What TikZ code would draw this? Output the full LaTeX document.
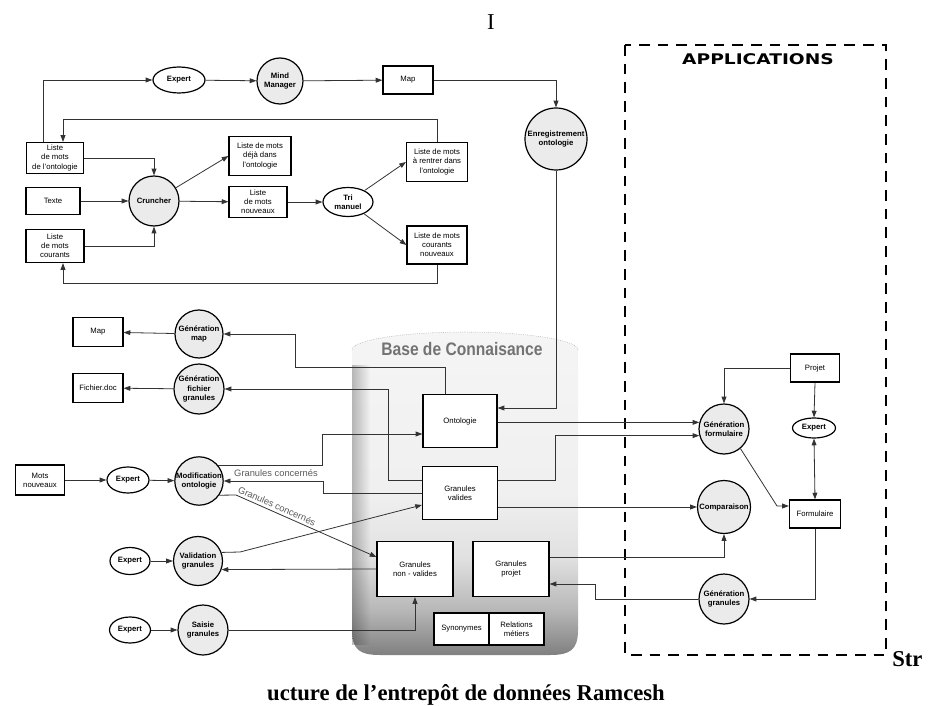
\documentclass[tikz,border=0pt]{standalone}
\usepackage{fontspec}
\setmainfont{Liberation Sans}
\newfontfamily\capfont{Liberation Serif}
\newfontfamily\appfont{DejaVu Sans}
\usetikzlibrary{arrows.meta,shapes.geometric,calc,fadings}
\newcommand\boxfont{\fontsize{5.8pt}{6.8pt}\selectfont}
\newcommand\circfont{\fontsize{5.8pt}{6.8pt}\selectfont\bfseries}
\pgfdeclareverticalshading{cylshade}{100bp}{color(0bp)=(black!50); color(25bp)=(black!50); color(32bp)=(black!28); color(40bp)=(black!12); color(50bp)=(black!6); color(75bp)=(black!4); color(100bp)=(black!4)}
\begin{document}
\begin{tikzpicture}[x=0.75pt,y=-0.75pt,
  box/.style 2 args={draw, line width=0.9pt, fill=white, minimum width=#1*0.75pt, minimum height=#2*0.75pt, inner sep=0pt, align=center, font=\boxfont},
  circ/.style={circle, draw, line width=0.9pt, fill=black!8, minimum size=#1*1.5pt, inner sep=0pt, align=center, font=\circfont},
  ell/.style 2 args={ellipse, draw, line width=0.9pt, fill=white, minimum width=#1*0.75pt, minimum height=#2*0.75pt, inner sep=0pt, align=center, font=\circfont},
  arr/.style={draw=black!80, line width=0.6pt, -{Triangle[length=5pt,width=3.6pt]}},
  arrboth/.style={draw=black!80, line width=0.6pt, {Triangle[length=5pt,width=3.6pt]}-{Triangle[length=5pt,width=3.6pt]}},
  lbl/.style={font=\fontsize{7pt}{8pt}\selectfont, text=black!65, inner sep=1pt}
]
\useasboundingbox (0,0) rectangle (935,706);

% Base de connaissance cylinder
\shade[shading=cylshade]
  (352,350) -- (352,630) .. controls (352,650) and (360,655) .. (380,655)
  -- (550,655) .. controls (570,655) and (578,650) .. (578,630)
  -- (578,350) arc[start angle=0, end angle=-180, x radius=113, y radius=18] -- cycle;
\fill[black, path fading=east, opacity=0.25] (352,365) rectangle (370,645);
\draw[black!40, densely dotted] (578,350) arc[start angle=0, end angle=-180, x radius=113, y radius=18];
\node[font=\fontsize{13.6pt}{15pt}\selectfont\bfseries, text=black!55] (bdc) at (462,349) {\scalebox{0.86}[1]{Base de Connaisance}};

% Applications dashed frame
\draw[line width=2pt, dash pattern=on 8pt off 6pt] (625,45) rectangle (886,655);
\node[font=\appfont\bfseries\fontsize{11pt}{12pt}\selectfont] (app) at (758,59) {\scalebox{1.27}[1]{APPLICATIONS}};

% Top part
\node[ell={52}{26}] (e1) at (179,80) {Expert};
\node[circ=23] (mm) at (280,81) {Mind\\Manager};
\node[box={50}{28}] (map1) at (408,80) {Map};
\node[circ=31] (enr) at (556,139) {Enregistrement\\ontologie};
\node[box={57}{31}] (lo) at (55,158) {Liste\\de mots\\de l'ontologie};
\node[box={54}{27}] (tx) at (53,201) {Texte};
\node[box={58}{33}] (lc) at (55,246) {Liste\\de mots\\courants};
\node[circ=25] (cr) at (154,201) {Cruncher};
\node[box={62}{39}] (ld) at (260,156) {Liste de mots\\déjà dans\\l'ontologie};
\node[box={58}{31}] (lnv) at (258,202) {Liste\\de mots\\nouveaux};
\node[ell={50}{29}] (tri) at (348,202) {Tri\\manuel};
\node[box={61}{39}] (lr) at (437,162) {Liste de mots\\à rentrer dans\\l'ontologie};
\node[box={60}{38}] (lcn) at (437,245) {Liste de mots\\courants\\nouveaux};

% Middle / left
\node[box={50}{29}] (map2) at (98,332) {Map};
\node[circ=24] (gm) at (199,334) {Génération\\map};
\node[box={50}{29}] (fd) at (98,388) {Fichier.doc};
\node[circ=25] (gfg) at (199,389) {Génération\\fichier\\granules};
\node[box={74}{53}] (ont) at (460,421) {Ontologie};
\node[box={75}{53}] (gv) at (460,493) {Granules\\valides};
\node[box={76}{55}] (gnv) at (415,569) {Granules\\non - valides};
\node[box={76}{55}] (gp) at (511,569) {Granules\\projet};
\node[box={55}{32}] (syn) at (461.5,629) {Synonymes};
\node[box={55}{32}] (rel) at (516.5,629) {Relations\\métiers};
\node[box={49}{30}] (mn) at (40,480) {Mots\\nouveaux};
\node[ell={42}{26}] (e2) at (128,480) {Expert};
\node[circ=24] (mo) at (199,481) {Modification\\ontologie};
\node[ell={40}{27}] (e3) at (130,561) {Expert};
\node[circ=24.5] (vg) at (198,561) {Validation\\granules};
\node[ell={41}{26}] (e4) at (130,630) {Expert};
\node[circ=25] (sg) at (203,630) {Saisie\\granules};

% Right
\node[box={49}{28}] (pr) at (815,368) {Projet};
\node[circ=25] (gf) at (724,429) {Génération\\formulaire};
\node[ell={43}{20}] (e5) at (814,428) {Expert};
\node[box={51}{28}] (fo) at (815,514) {Formulaire};
\node[circ=26.5] (cp) at (724,507) {Comparaison};
\node[circ=25] (gg) at (724,599) {Génération\\granules};

% Connectors top
\draw[arr] ($(lo.north)+(-12,0)$) |- (e1.west);
\draw[arr] (e1) -- (mm);
\draw[arr] (mm) -- (map1);
\draw[arr] (map1.east) -| (enr.north);
\draw[arr] (enr.south) |- ($(ont.east)+(0,-13)$);
\draw[arr] (lr.north) -- ++(0,-22) -| ($(lo.north)+(8,0)$);
\draw[arr] (lo.east) -| (cr.north);
\draw[arr] (tx) -- (cr);
\draw[arr] (lc.east) -| (cr.south);
\draw[arr] (cr) -- (ld.west);
\draw[arr] (cr) -- (lnv);
\draw[arr] (lnv) -- (tri);
\draw[arr] (tri) -- (lr.west);
\draw[arr] (tri) -- (lcn.west);
\draw[arr] (lcn.south) -- ++(0,19) -| ($(lc.south)+(8,0)$);

% Connectors middle
\draw[arr] ($(ont.north)+(-15,0)$) -- ++(0,-27) -| (295,334) -- (gm.east);
\draw[arr] ($(gv.west)+(0,-13)$) -- (388,480) |- (gfg.east);
\draw[arr] (gm) -- (map2);
\draw[arr] (gfg) -- (fd);
\draw[arr] (mo.40) -| (322,434) -- ($(ont.west)+(0,13)$);
\draw[arr] (gv.west) -- (323,493) |- (mo.east);
\node[lbl] (gc1) at (276,473) {Granules concernés};
\draw[arr] (mo.-35) -- (236,495) -- ($(gnv.west)+(0,-12)$);
\node[lbl, rotate=-24] (gc2) at (277,506) {Granules concernés};
\draw[arr] (vg.20) -- (240,552) -- ($(gv.west)+(0,12)$);
\draw[arr] (gnv.west) -- (vg.-20);
\draw[arr] (sg.east) -| (gnv.south);
\draw[arr] (mn) -- (e2);
\draw[arr] (e2) -- (mo);
\draw[arr] (e3) -- (vg);
\draw[arr] (e4) -- (sg);

% Connectors right
\draw[arr] (pr.west) -| (gf.north);
\draw[arr] (pr.south) -- (e5.north);
\draw[arrboth] (e5.south) -- (fo.north);
\draw[arr] (gf.-50) -- (777,506) -- ($(fo.west)+(0,-8)$);
\draw[arr] (ont.east |- gf.165) -- (gf.165);
\draw[arr] ($(gv.east)+(0,-13)$) -- (555,480) |- (gf.195);
\draw[arr] ($(gv.east)+(0,14)$) -- (cp.west);
\draw[arr] ($(gp.east)+(0,-12)$) -| (cp.south);
\draw[arr] (fo.south) |- (gg.east);
\draw[arr] (gg.west) -- (595,599) |- ($(gp.east)+(0,15)$);

% Caption texts
\node[font=\capfont\fontsize{17pt}{20pt}\selectfont] (ti) at (491,22) {I};
\node[font=\capfont\bfseries\fontsize{17pt}{20pt}\selectfont, anchor=base west, inner sep=0pt] (str) at (892,666) {Str};
\node[font=\capfont\bfseries\fontsize{17pt}{20pt}\selectfont, anchor=base, inner sep=0pt] (cap) at (466,700) {ucture de l’entrepôt de données Ramcesh};
\end{tikzpicture}
\end{document}
